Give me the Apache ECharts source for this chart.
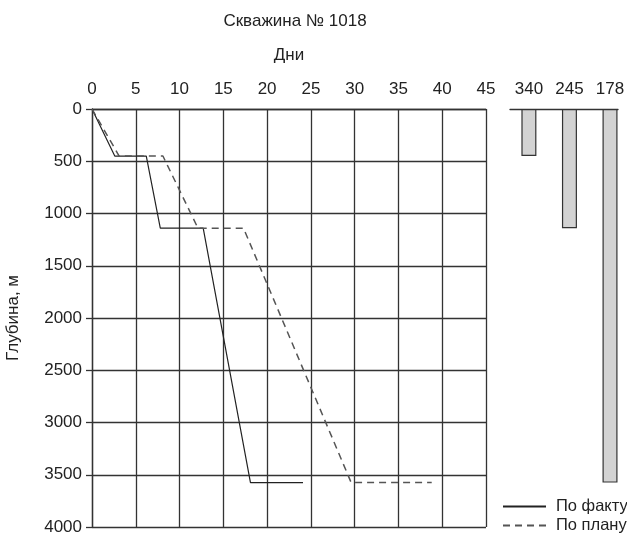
<!DOCTYPE html>
<html><head><meta charset="utf-8">
<script src="https://cdn.jsdelivr.net/npm/echarts@6/dist/echarts.min.js"></script>
<style>html,body{margin:0;padding:0;background:#fff}#c{width:627px;height:537px}</style>
</head><body><div id="c"></div>
<script>
const factDays = [0, 2.6, 6.2, 7.8, 12.7, 18.1, 24.1];
const factDepth = [0, 450, 450, 1140, 1140, 3575, 3575];
const planDays = [0, 3.1, 8.1, 12.1, 17.3, 29.6, 38.8];
const planDepth = [0, 450, 450, 1140, 1140, 3575, 3575];
const casingDiam = ['340', '245', '178'];
const casingDepth = [450, 1140, 3575];
const dayTicks = [0, 45, 5];
const depthTicks = [0, 4000, 500];

const F = 'Liberation Sans, Arial, sans-serif';
const FS = 17;
const chart = echarts.init(document.getElementById('c'));
chart.setOption({
  animation: false,
  title: { text: 'Скважина № 1018', left: 290, top: 8, textAlign: 'center',
    textStyle: { fontFamily: F, fontSize: FS, fontWeight: 'normal', color: '#222' } },
  legend: {
    orient: 'vertical', left: 502, top: 498, padding: 0, itemWidth: 43, itemHeight: 10, itemGap: 2,
    itemStyle: { opacity: 0, borderWidth: 0 },
    textStyle: { fontFamily: F, fontSize: 16.5, color: '#222', padding: [0, 0, 0, 5] },
    data: ['По факту', 'По плану']
  },
  grid: [
    { left: 92, top: 109, right: 141, bottom: 10, outerBoundsMode: 'none', containLabel: false },
    { left: 510, top: 109, right: 9, bottom: 10, outerBoundsMode: 'none', containLabel: false }
  ],
  xAxis: [
    { type: 'value', gridIndex: 0, position: 'top', min: dayTicks[0], max: dayTicks[1], interval: dayTicks[2],
      name: 'Дни', nameLocation: 'middle', nameGap: 45,
      nameTextStyle: { fontFamily: F, fontSize: FS, color: '#222' },
      axisLine: { show: true, lineStyle: { color: '#333', width: 1.3 } },
      axisTick: { show: false },
      axisLabel: { fontFamily: F, fontSize: FS, color: '#222', margin: 11 },
      splitLine: { show: true, lineStyle: { color: '#333', width: 1.3 } } },
    { type: 'value', gridIndex: 1, position: 'top', min: 0.534, max: 3.197,
      axisLine: { show: true, lineStyle: { color: '#333', width: 1.3 } },
      axisTick: { show: false },
      axisLabel: { fontFamily: F, fontSize: FS, color: '#222', margin: 11,
        showMinLabel: false, showMaxLabel: false,
        formatter: v => (Math.abs(v - Math.round(v)) < 1e-6 && v >= 1 && v <= 3) ? casingDiam[Math.round(v) - 1] : '' },
      splitLine: { show: false } }
  ],
  yAxis: [
    { type: 'value', gridIndex: 0, inverse: true, min: depthTicks[0], max: depthTicks[1], interval: depthTicks[2],
      name: 'Глубина, м', nameLocation: 'middle', nameGap: 70, nameRotate: 90,
      nameTextStyle: { fontFamily: F, fontSize: FS, color: '#222' },
      axisLine: { show: true, lineStyle: { color: '#333', width: 1.3 } },
      axisTick: { show: true, length: 6, lineStyle: { color: '#333', width: 1.3 } },
      axisLabel: { fontFamily: F, fontSize: FS, color: '#222', margin: 10, formatter: v => String(v) },
      splitLine: { show: true, lineStyle: { color: '#333', width: 1.3 } } },
    { type: 'value', gridIndex: 1, inverse: true, min: depthTicks[0], max: depthTicks[1], show: false }
  ],
  series: [
    { name: 'По факту', type: 'line', xAxisIndex: 0, yAxisIndex: 0, symbol: 'none',
      lineStyle: { color: '#222', width: 1.2 }, itemStyle: { color: '#222' },
      data: factDays.map((d, i) => [d, factDepth[i]]) },
    { name: 'По плану', type: 'line', xAxisIndex: 0, yAxisIndex: 0, symbol: 'none',
      lineStyle: { color: '#555', width: 1.5, type: [7, 5] }, itemStyle: { color: '#555' },
      data: planDays.map((d, i) => [d, planDepth[i]]) },
    { type: 'bar', xAxisIndex: 1, yAxisIndex: 1, barWidth: 15,
      itemStyle: { color: '#d3d3d3', borderColor: '#333', borderWidth: 1.2 },
      data: casingDepth.map((v, i) => [i + 1, v]) }
  ]
});
</script></body></html>
